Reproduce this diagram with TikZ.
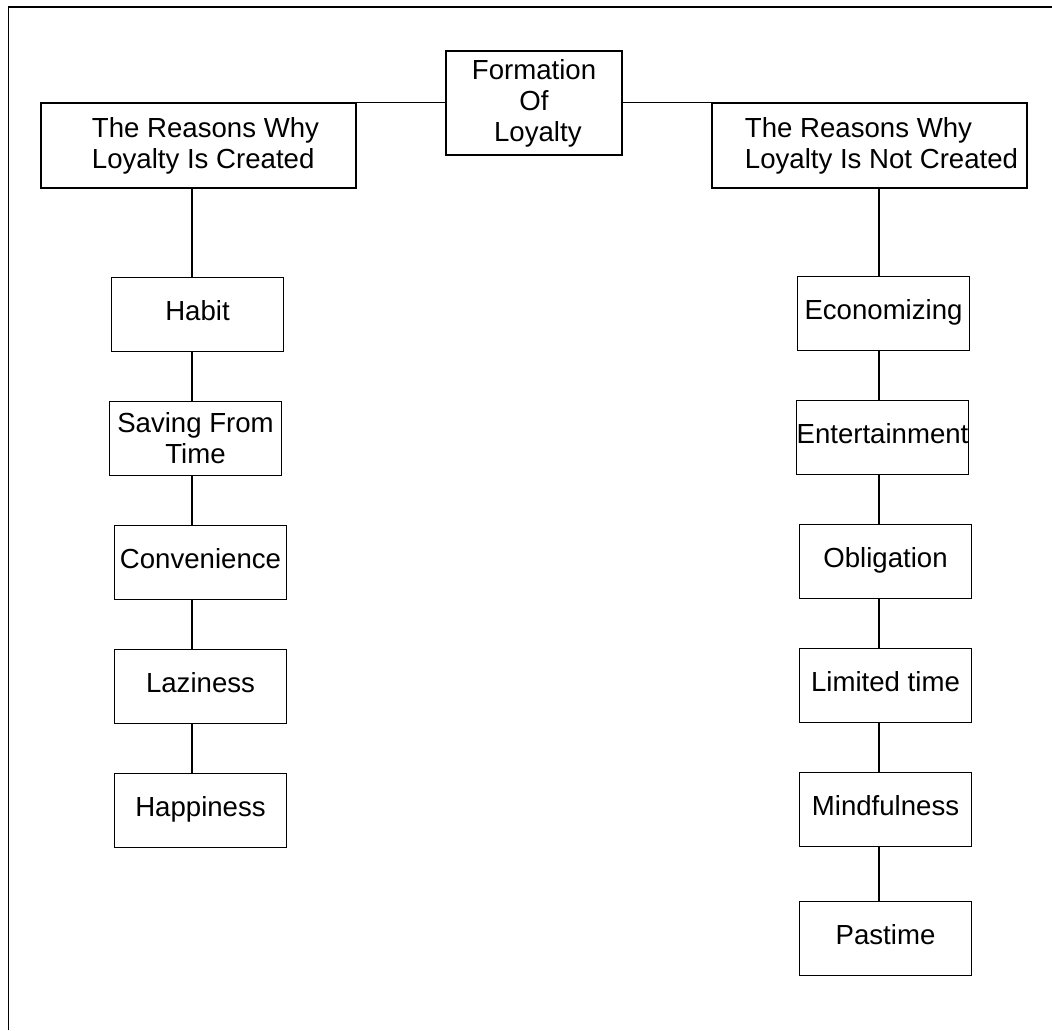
\documentclass[tikz,border=0pt]{standalone}
\usepackage{fontspec}
\setmainfont{Liberation Sans}
\usetikzlibrary{positioning}

\begin{document}
\begin{tikzpicture}[x=0.5pt, y=-0.5pt, node distance=24.3pt,
  every node/.style={align=center, font=\fontsize{13.8pt}{15.5pt}\selectfont},
  box/.style={draw, line width=0.7pt, minimum width=86pt, minimum height=37pt, inner sep=0pt},
  onebox/.style={box, text height=10pt, text depth=4pt},
  headbox/.style={draw, line width=0.7pt, minimum width=157.5pt, minimum height=42.5pt, inner sep=0pt, align=left},
  link/.style={line width=0.6pt}]
\useasboundingbox (0,0) rectangle (1052,1030);
% Frame (only left and top edges show)
\draw[line width=0.8pt] (8.5,1030) -- (8.5,7) -- (1052,7);

% Top nodes
\node (Formation) [draw, line width=0.7pt, minimum width=88pt, minimum height=52pt, inner sep=0pt] at (534,103) {Formation\\Of\\\ Loyalty};
\node (LeftHead) [headbox] at (198.5,145.5) {\hspace*{7pt}The Reasons Why\\\hspace*{7pt}Loyalty Is Created};
\node (RightHead) [headbox] at (869.5,145.5) {\hspace*{12pt}The Reasons Why\\\hspace*{12pt}Loyalty Is Not Created};
\coordinate (LeftSpine) at (192,0);
\coordinate (RightSpine) at (879,0);

% Left column
\node (Habit) [onebox, below=44pt of LeftHead, xshift=-0.5pt] {Habit};
\node (Saving) [box, below=of Habit, xshift=-1pt] {Saving From\\Time};
\node (Convenience) [onebox, below=of Saving, xshift=2.5pt] {Convenience};
\node (Laziness) [onebox, below=of Convenience] {Laziness};
\node (Happiness) [onebox, below=of Laziness] {Happiness};

% Right column
\node (Economizing) [onebox, below=43.5pt of RightHead, xshift=7pt] {Economizing};
\node (Entertainment) [onebox, below=of Economizing, xshift=-0.5pt] {Entertainment};
\node (Obligation) [onebox, below=of Entertainment, xshift=1.5pt] {Obligation};
\node (Limited) [onebox, below=of Obligation] {Limited time};
\node (Mindfulness) [onebox, below=of Limited] {Mindfulness};
\node (Pastime) [onebox, below=26.8pt of Mindfulness] {Pastime};

% Links
\draw[link] (LeftHead.north east) -- (LeftHead.north east -| Formation.west);
\draw[link] (RightHead.north west) -- (RightHead.north west -| Formation.east);
\foreach \a/\b in {LeftHead/Habit, Habit/Saving, Saving/Convenience, Convenience/Laziness, Laziness/Happiness}
  \draw[link] (\a.south -| LeftSpine) -- (\b.north -| LeftSpine);
\foreach \a/\b in {RightHead/Economizing, Economizing/Entertainment, Entertainment/Obligation, Obligation/Limited, Limited/Mindfulness, Mindfulness/Pastime}
  \draw[link] (\a.south -| RightSpine) -- (\b.north -| RightSpine);
\end{tikzpicture}
\end{document}
